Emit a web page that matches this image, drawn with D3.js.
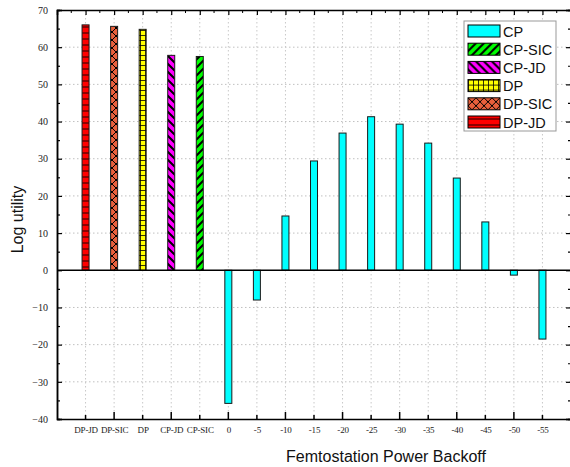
<!DOCTYPE html>
<html><head><meta charset="utf-8">
<script src="https://cdn.jsdelivr.net/npm/d3@7"></script>
<style>
html,body{margin:0;padding:0;background:#fff;}
svg{display:block;}
</style></head>
<body>
<svg id="chart" width="570" height="467"></svg>
<script>
const categories = ["DP-JD","DP-SIC","DP","CP-JD","CP-SIC","0","-5","-10","-15","-20","-25","-30","-35","-40","-45","-50","-55"];
const schemeNames = ["DP-JD","DP-SIC","DP","CP-JD","CP-SIC"];
const schemeValues = [66.0, 65.6, 64.8, 57.8, 57.5];
const backoffLabels = ["0","-5","-10","-15","-20","-25","-30","-35","-40","-45","-50","-55"];
const cpValues = [-35.8, -8.0, 14.6, 29.4, 36.9, 41.3, 39.3, 34.2, 24.8, 13.0, -1.3, -18.5];
const legendNames = ["CP","CP-SIC","CP-JD","DP","DP-SIC","DP-JD"];
const yTicks = [-40,-30,-20,-10,0,10,20,30,40,50,60,70];

const svg = d3.select("#chart");
const L = 57, R = 571, T = 10, B = 419;
const x = d3.scalePoint().domain(categories).range([L, R]).padding(1);
const y = d3.scaleLinear().domain([-40, 70]).range([B, T]);
const step = x.step();

// patterns
const defs = svg.append("defs");
function pat(id, size, bg, draw){
  const p = defs.append("pattern").attr("id", id).attr("patternUnits","userSpaceOnUse")
    .attr("width", size).attr("height", size);
  p.append("rect").attr("width", size).attr("height", size).attr("fill", bg);
  draw(p);
}
pat("p-CP", 8, "#00ffff", p=>{});
pat("p-CP-SIC", 8, "#00ff00", p=>{
  p.append("path").attr("d","M-2,10 L10,-2 M-2,2 L2,-2 M6,10 L10,6").attr("stroke","#000").attr("stroke-width",2);
});
pat("p-CP-JD", 8, "#ff00ff", p=>{
  p.append("path").attr("d","M-2,-2 L10,10 M6,-2 L10,2 M-2,6 L2,10").attr("stroke","#000").attr("stroke-width",2);
});
pat("p-DP", 5, "#ffff00", p=>{
  p.append("path").attr("d","M0,0.5 H5 M0.5,0 V5").attr("stroke","#000").attr("stroke-width",0.8);
});
pat("p-DP-SIC", 8, "#e8603c", p=>{
  p.append("path").attr("d","M0,0 L8,8 M8,0 L0,8").attr("stroke","#000").attr("stroke-width",1);
});
pat("p-DP-JD", 6, "#ff0000", p=>{
  p.append("path").attr("d","M0,3 H6").attr("stroke","#000").attr("stroke-width",0.9);
});
const fillOf = n => `url(#p-${n})`;

// grid
const grid = svg.append("g");
grid.selectAll("line.h").data(yTicks.filter(v=>v!==-40 && v!==70 && v!==0)).join("line")
  .attr("x1", L).attr("x2", R).attr("y1", d=>y(d)).attr("y2", d=>y(d))
  .attr("stroke","#c0c0c0").attr("stroke-width",1).attr("stroke-dasharray","1.5,2.5");
grid.selectAll("line.v").data(categories).join("line")
  .attr("x1", d=>x(d)).attr("x2", d=>x(d)).attr("y1", T).attr("y2", B)
  .attr("stroke","#c8c8c8").attr("stroke-width",1).attr("stroke-dasharray","1.5,2.5");

// bars
const bw = 7;
const bars = svg.append("g");
const barData = schemeNames.map((n,i)=>({cat:n, v:schemeValues[i], s:n}))
  .concat(backoffLabels.map((c,i)=>({cat:c, v:cpValues[i], s:"CP"})));
bars.selectAll("rect").data(barData).join("rect")
  .attr("x", d=>x(d.cat)-bw/2).attr("width", bw)
  .attr("y", d=>y(Math.max(0,d.v))).attr("height", d=>Math.abs(y(d.v)-y(0)))
  .attr("fill", d=>fillOf(d.s)).attr("stroke","#1a1a1a").attr("stroke-width",1);

// zero line
svg.append("line").attr("x1",L).attr("x2",R).attr("y1",y(0)).attr("y2",y(0))
  .attr("stroke","#000").attr("stroke-width",1.5);

// axes
const axL = svg.append("g").attr("transform",`translate(${L},0)`)
  .call(d3.axisLeft(y).tickValues(yTicks).tickSize(-5).tickPadding(9).tickFormat(d3.format("d")));
const axLm = svg.append("g").attr("transform",`translate(${L},0)`)
  .call(d3.axisLeft(y).tickValues(d3.range(-35,70,10)).tickSize(-3).tickFormat(""));
const axR = svg.append("g").attr("transform",`translate(${R},0)`)
  .call(d3.axisRight(y).tickValues(yTicks).tickSize(-5).tickFormat(""));
const axRm = svg.append("g").attr("transform",`translate(${R},0)`)
  .call(d3.axisRight(y).tickValues(d3.range(-35,70,10)).tickSize(-3).tickFormat(""));
const axB = svg.append("g").attr("transform",`translate(0,${B})`)
  .call(d3.axisBottom(x).tickSize(0).tickPadding(8));
const axT = svg.append("g").attr("transform",`translate(0,${T})`)
  .call(d3.axisTop(x).tickSize(-5).tickFormat(""));
// bottom ticks alternating, top minor half-step ticks
svg.append("g").selectAll("line").data(categories).join("line")
  .attr("x1", d=>x(d)).attr("x2", d=>x(d)).attr("y1", B)
  .attr("y2", (d,i)=> B - (i%2===1 ? 7 : 4)).attr("stroke","#000").attr("stroke-width",1.5);
svg.append("g").selectAll("line").data(categories.concat(["__end"])).join("line")
  .attr("x1", (d,i)=>x(categories[0]) + (i-0.5)*step).attr("x2",(d,i)=>x(categories[0]) + (i-0.5)*step)
  .attr("y1", T).attr("y2", T+3).attr("stroke","#000").attr("stroke-width",1);

[axL,axLm,axR,axRm,axB,axT].forEach(g=>{
  g.select(".domain").attr("stroke","#000").attr("stroke-width",1.5);
  g.selectAll(".tick line").attr("stroke","#000").attr("stroke-width",1.2);
});
axL.selectAll("text").attr("font-family","'Liberation Serif', serif").attr("font-size",10).attr("fill","#222");
axB.selectAll("text").attr("font-family","'Liberation Serif', serif").attr("font-size",9)
  .attr("letter-spacing","-0.2").attr("fill","#222");

// axis titles
svg.append("text").attr("transform",`translate(23,${(T+B)/2 + 5}) rotate(-90)`)
  .attr("text-anchor","middle").attr("font-family","'Liberation Sans', Arial, sans-serif")
  .attr("font-size",16).attr("fill","#111").text("Log utility");
svg.append("text").attr("x", 386).attr("y", 462)
  .attr("text-anchor","middle").attr("font-family","'Liberation Sans', Arial, sans-serif")
  .attr("font-size",16).attr("fill","#111").text("Femtostation Power Backoff");

// legend
const lg = svg.append("g").attr("transform","translate(464,21)");
lg.append("rect").attr("width",92).attr("height",110).attr("fill","#fff").attr("stroke","#999").attr("stroke-width",1);
const rows = lg.selectAll("g.row").data(legendNames).join("g")
  .attr("transform",(d,i)=>`translate(4,${4 + i*18.2})`);
rows.append("rect").attr("width",32).attr("height",12).attr("fill",d=>fillOf(d))
  .attr("stroke","#000").attr("stroke-width",1);
rows.append("text").attr("x",35).attr("y",11.5).attr("font-family","'Liberation Sans', Arial, sans-serif")
  .attr("font-size",14.5).attr("fill","#111").text(d=>d);
</script>
</body></html>
